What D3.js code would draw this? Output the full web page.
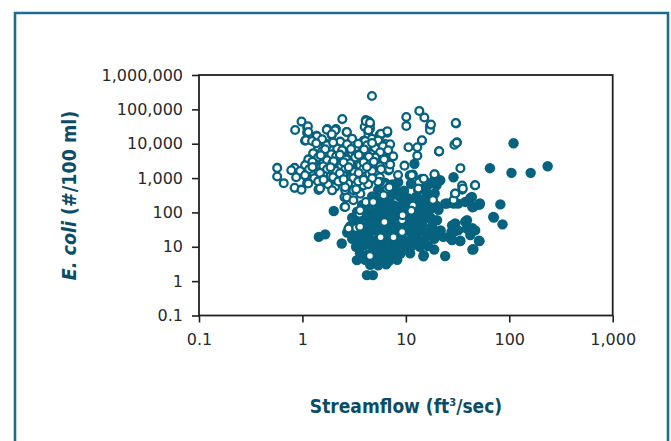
<!DOCTYPE html>
<html>
<head>
<meta charset="utf-8">
<script src="https://cdn.jsdelivr.net/npm/d3@7"></script>
<style>
  html, body { margin: 0; padding: 0; background: #ffffff; }
  svg { display: block; }
</style>
</head>
<body>
<svg id="chart" width="671" height="441"></svg>
<script>
// ---- DATA (streamflow ft3/sec, E. coli #/100 ml) ----
const xTickValues = [0.1, 1, 10, 100, 1000];
const yTickValues = [0.1, 1, 10, 100, 1000, 10000, 100000, 1000000];

// hollow markers: [streamflow, E. coli]
const openSamples = [
  [4.7,245000],[13.5,90000],[15.1,58000],[10.1,60000],[10.1,33000],[17.1,33000],[17.1,25000],
  [30.6,39000],[4.1,48700],[4.4,39000],[4.0,31000],[4.3,24000],[0.98,44000],[0.85,25000],
  [1.11,30000],[1.11,21000],[1.06,12200],[2.43,52000],[1.74,26700],[2.11,26700],[2.67,22000],
  [1.92,18000],[1.37,17000],[6.6,21000],[5.7,18000],[20.9,6000],[14.3,12200],[12.9,7900],
  [10.6,7900],[12.9,4500],[29.5,9400],[31.2,11000],[33.7,1940],[19,1270],[9.7,2300],[8.4,1230],
  [11.7,1270],[35,460],[35,610],[46.6,620],[29.8,350],[13.2,460],[6.0,680],[6.6,470],[5.6,1060],
  [6.8,1660],[6.6,3400],[5.2,2890],[4.3,2070],[4.1,4000],[4.5,8700],[3.84,5600],[3.9,12200],
  [0.57,1980],[0.57,1110],[0.66,710],[0.84,1980],[0.78,1690],[0.84,520],[0.98,460],[1.11,710],
  [1.11,1060],[1.13,2000],[1.11,2700],[1.37,2300],[1.37,950],[1.44,460],[1.37,4500],[1.44,7900],
  [1.58,8700],[1.69,5600],[1.83,2600],[1.74,1110],[2.01,620],[2.21,850],[2.21,4000],[1.92,7000],
  [1.74,9800],[2.32,7900],[2.43,4000],[2.55,2160],[2.94,2600],[2.94,5600],[3.08,9800],[3.39,8300],
  [2.55,1330],[2.55,280],[2.55,144],[2.8,34],[3.39,34],[3.08,490],[3.17,680],[3.63,350],[3.9,610],
  [3.08,1850],[3.73,1480],[3.56,4000],[3.73,5000],[4.1,200],[4.83,200],[3.56,92],[5.84,330],
  [6.93,545],[5.62,760],[4.97,2600],[5.84,4800],[6.0,7900],[5.2,9800],[6.3,9800],[10.9,1200],
  [13.4,760],[14.9,950],[11.7,160],[9.2,59],[9.2,27],[7.6,19],[5.7,19],[6.2,53],[4.5,5.4],
  [18.3,230],[28.9,230],[18.9,1290],[46.8,617],[35.6,495],[30,355],[13.2,495],[11.4,1200],
  [6.9,1780],[4.7,970],[5.4,775],[6.1,316],[9.3,83],[11.3,111],[3.3,35],[2.79,34],
  [1.38,2200],[1.38,970],[1.43,462],[1.72,1120],[1.92,2640],[2.23,860],[2.07,550],[2.49,1510],
  [3.11,1510],[3.0,2640],[3.75,2100],[2.59,442],[3.11,442],[2.69,271],[2.59,145],[3.11,226],
  [3.61,116],[3.61,38],[17.5,36000],[30.4,40000],[31,10700],[21,6000],[14.3,12600],[6.5,21900],
  [5.6,18400],[4.5,36000],[4.35,45000],[4.5,27500],[4.35,17500],[5.9,9000],[6.5,7200],[4.6,10000],
  [5.6,4100],[4.2,5700],[1.13,32000],[1.14,22000],[1.08,12600],[1.38,16400],[1.72,25700],
  [2.07,24500],[1.92,18700],[2.69,22000],[4.1,45000],[4.5,41000],[4.35,24500],[5.76,19500],
  [6.63,23000],[4.7,14000],
  // dense upper-left group
  [1.24,12000],[1.55,13500],[2.32,11500],[3.02,14000],[4.04,12000],[5.4,12500],
  [1.42,7900],[1.73,9000],[2.17,7300],[2.7,9600],[3.38,7900],[4.22,9000],[5.05,7300],[6.0,8500],[7.05,9600],
  [1.27,5300],[1.55,6000],[1.9,4900],[2.42,6400],[3.02,5300],[3.78,6000],[4.62,4900],[5.64,5600],[6.74,6400],
  [1.14,3500],[1.42,4000],[1.73,3300],[2.12,4300],[2.65,3500],[3.23,4000],[4.04,3300],[5.05,4000],[6.17,3500],[7.55,4300],
  [1.06,2350],[1.3,2700],[1.59,2200],[1.94,2700],[2.37,2200],[2.89,2700],[3.61,2350],[4.52,2700],[5.64,2200],[7.05,2500],
  [0.95,1600],[1.16,1800],[1.42,1500],[1.73,1800],[2.12,1600],[2.59,1800],[3.16,1500],[3.86,1800],[4.72,1600],[5.76,1800],
  [0.87,1060],[1.06,1200],[1.3,990],[1.59,1200],[1.98,1060],[2.47,1200],[3.09,990],[3.78,1100],[4.72,990],
  [1.14,700],[1.42,800],[1.77,660],[2.22,800],[2.77,700],[3.46,800],[4.32,660],
  [1.48,500],[1.94,440],[2.59,540],[3.31,470],
  // in-between positions of the dense group
  [1.36,10300],[1.98,10800],[3.46,10000],[4.72,10500],[1.66,6900],[2.95,7000],[3.95,6800],
  [1.5,4600],[2.3,4800],[3.5,4700],[4.4,4200],[1.25,3000],[2.0,3100],[2.5,2900],[3.9,2900],
  [4.9,3000],[1.25,2100],[1.87,2050],[2.8,2050],[4.2,2100],[1.48,1400],[2.3,1380],[3.5,1400],
  [1.6,900],[2.5,920],[3.9,900]
];

// solid markers: [streamflow, E. coli]
const filledSamples = [
  [110,10300],[235,2210],[161,1420],[105,1420],[65,1940],[12.1,2600],[28.9,1060],[82,171],[71,71],
  [86,45],[51,171],[42,262],[44,142],[38,55],[44,35],[42,22],[51,15],[44,8.3],[24,5.4],[18.8,8.3],
  [29,40],[32,30],[33.6,15],[26.3,19],[21.7,30],[17.9,22],[20.7,120],[24,180],[17.1,200],[17.9,313],
  [19.8,620],[15.6,760],[14.2,950],[11.2,680],[18.8,850],[32,180],[27.6,27],[14.9,5.7],[2.01,110],
  [1.44,19.4],[1.66,23],[2.4,12.5],[3.36,4.1],[4.2,1.5],[4.8,1.5],[14.8,5.3],[17.2,254],[19,355],
  [37.5,202],[43.5,282],[52,182],[70,74],[30,47.5],[37.5,53],[39,34],[46.8,30],[29,27],[20,27],
  [13.7,145],[16,74],[20,59],[21.5,863],[25,182],[29,182],[51.5,170],[45,145],[39,59],[28,42],
  [45,8.5],[51.5,14.6],[33.5,14.6],[28,15.6],[23,19.4],
  // dense core
  [6.31,720],[7.38,650],[8.43,760],[13.7,700],[16.4,640],[19.6,760],
  [5.4,460],[6.45,420],[7.88,470],[9.6,430],[13.2,450],[15.7,410],
  [4.72,290],[5.76,260],[7.05,280],[8.6,300],[10.5,260],[12.6,285],[15.1,250],
  [3.78,165],[4.52,180],[5.4,170],[6.45,185],[7.7,160],[9.2,175],[11.0,165],[13.2,180],[15.7,170],[19.6,160],
  [3.38,105],[4.04,112],[4.83,100],[5.77,115],[6.89,104],[8.24,110],[9.84,100],[11.8,115],[14.1,105],[16.8,112],
  [3.03,70],[3.61,64],[4.32,72],[5.16,66],[6.17,70],[7.38,63],[8.81,72],[10.5,66],[12.6,70],[15.1,64],[17.5,68],
  [2.9,40],[3.46,44],[4.13,40],[4.94,45],[5.9,41],[7.05,44],[8.43,39],[10.1,45],[12.0,41],[14.4,43],[17.9,40],
  [2.71,26],[3.23,28],[3.87,25],[4.62,28],[5.52,26],[6.59,29],[7.88,25],[9.42,28],[11.3,26],[13.4,28],[16.1,26],[20.8,27],
  [3.03,17],[3.61,16],[4.32,17.5],[5.16,15.5],[6.17,17],[7.38,16],[8.81,17.5],[10.5,15.5],[12.6,17],[15.1,16],[18.8,17],
  [3.3,10],[3.95,11],[4.72,10],[5.64,11],[6.74,9.8],[8.06,11],[9.6,10],[11.5,10.8],[13.7,10],[16.4,10.5],
  [3.61,6.5],[4.32,6.0],[5.16,6.8],[6.17,6.2],[7.38,6.8],[8.81,6.2],[11.0,6.5],
  [4.04,4.2],[4.83,3.9],[5.77,4.3],[6.89,3.9],[8.24,4.2],
  [4.52,3.0],[5.4,2.9],[6.45,3.1]
];

const xTitle = "Streamflow (ft";
const xTitleSup = "3";
const xTitleEnd = "/sec)";

// ---- DRAW ----
const svg = d3.select("#chart");
const teal = "#06627f";
const titleColor = "#0b4d66";
const axisColor = "#231f20";

// outer frame (open at the bottom)
svg.append("path")
  .attr("d", "M15,445 L15,13 L668,13 L668,445")
  .attr("fill", "none")
  .attr("stroke", "#1b6d8b")
  .attr("stroke-width", 2.6);

const plot = { left: 199, right: 612.7, top: 75, bottom: 315.5 };

const x = d3.scaleLog().domain([0.1, 1000]).range([plot.left, plot.right]);
const y = d3.scaleLog().domain([0.1, 1000000]).range([plot.bottom, plot.top]);
const fmt = d3.format(",");

const tickFont = "'DejaVu Sans', sans-serif";

const yAxis = svg.append("g")
  .attr("transform", `translate(${plot.left},0)`)
  .call(d3.axisLeft(y).tickValues(yTickValues).tickFormat(d => fmt(d))
    .tickSizeInner(7).tickSizeOuter(0).tickPadding(9));
const xAxis = svg.append("g")
  .attr("transform", `translate(0,${plot.bottom})`)
  .call(d3.axisBottom(x).tickValues(xTickValues).tickFormat(d => fmt(d))
    .tickSizeInner(7).tickSizeOuter(0).tickPadding(11));

[yAxis, xAxis].forEach(g => {
  g.select(".domain").remove();
  g.selectAll(".tick line").attr("stroke", axisColor).attr("stroke-width", 1.6);
  g.selectAll(".tick text")
    .attr("fill", "#2a2a2a")
    .style("font-family", tickFont)
    .style("font-size", "16px");
});

// plot frame
svg.append("rect")
  .attr("x", plot.left).attr("y", plot.top)
  .attr("width", plot.right - plot.left).attr("height", plot.bottom - plot.top)
  .attr("fill", "none").attr("stroke", axisColor).attr("stroke-width", 1.8);

// markers: solid first, hollow on top
const marks = svg.append("g");
marks.selectAll("circle.filled")
  .data(filledSamples).enter().append("circle")
  .attr("class", "filled")
  .attr("cx", d => x(d[0])).attr("cy", d => y(d[1]))
  .attr("r", 5.2)
  .attr("fill", teal);

marks.selectAll("circle.open")
  .data(openSamples).enter().append("circle")
  .attr("class", "open")
  .attr("cx", d => x(d[0])).attr("cy", d => y(d[1]))
  .attr("r", 3.9)
  .attr("fill", "#ffffff")
  .attr("stroke", teal)
  .attr("stroke-width", 2.3);

// axis titles
const titleFont = "'DejaVu Sans Condensed', 'DejaVu Sans', sans-serif";
const xt = svg.append("text")
  .attr("x", 406).attr("y", 413)
  .attr("text-anchor", "middle")
  .attr("fill", titleColor)
  .style("font-family", titleFont)
  .style("font-stretch", "condensed")
  .style("font-weight", "bold")
  .style("font-size", "19px");
xt.append("tspan").text(xTitle);
xt.append("tspan").attr("dy", -7).style("font-size", "11px").text(xTitleSup);
xt.append("tspan").attr("dy", 7).text(xTitleEnd);

const yt = svg.append("text")
  .attr("transform", "translate(75.5,195.5) rotate(-90)")
  .attr("text-anchor", "middle")
  .attr("fill", titleColor)
  .style("font-family", titleFont)
  .style("font-stretch", "condensed")
  .style("font-weight", "bold")
  .style("font-size", "19.5px");
yt.append("tspan").style("font-style", "italic").text("E. coli");
yt.append("tspan").text(" (#/100 ml)");
</script>
</body>
</html>
